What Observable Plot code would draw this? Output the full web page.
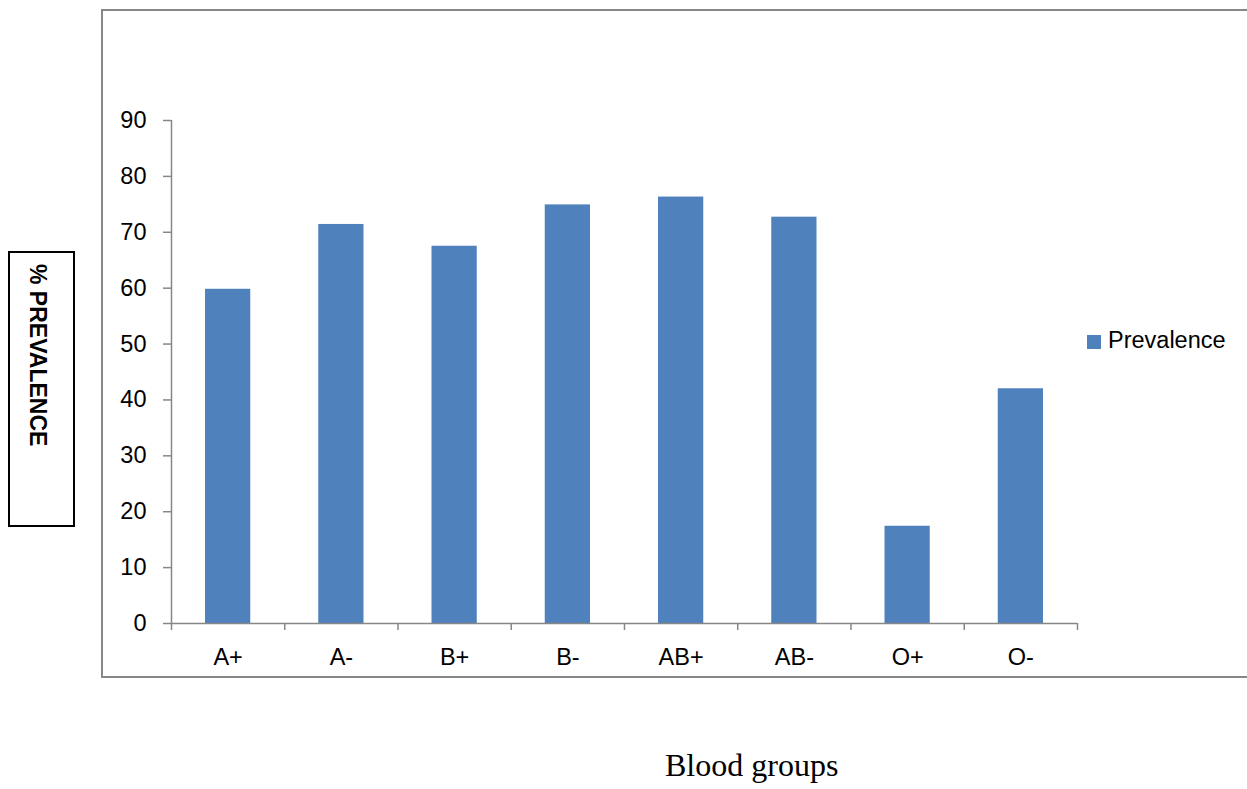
<!DOCTYPE html>
<html>
<head>
<meta charset="utf-8">
<script src="https://cdn.jsdelivr.net/npm/d3@7"></script>
<script src="https://cdn.jsdelivr.net/npm/@observablehq/plot@0.6"></script>
<style>
  html, body { margin: 0; padding: 0; background: #fff; overflow: hidden; }
  #wrap { position: relative; width: 1247px; height: 789px; }
  #chart { position: absolute; left: 0; top: 0; }
  #frame { position: absolute; left: 101px; top: 9px; width: 1200px; height: 665px;
           border-left: 2px solid #878787; border-top: 2px solid #878787; border-bottom: 2px solid #878787; }
  #ybox { position: absolute; left: 8px; top: 251px; width: 63px; height: 272px; border: 2px solid #000; background: #fff; }
  #ylab { position: absolute; left: 14px; top: 11px; writing-mode: vertical-rl;
          font: bold 23px "Liberation Sans", Arial, sans-serif; color: #000; white-space: nowrap; }
  #legend { position: absolute; left: 1087px; top: 327px; font: 23.5px "Liberation Sans", Arial, sans-serif; color: #000;
            display: flex; align-items: center; }
  #legend .sw { width: 14px; height: 14px; background: #4F81BD; margin-right: 7px; margin-top: 2px; }
  #xtitle { position: absolute; left: 665px; top: 747px; font: 32px "Liberation Serif", "Times New Roman", serif; color: #000; white-space: nowrap; }
</style>
</head>
<body>
<div id="wrap">
  <div id="frame"></div>
  <div id="chart"></div>
  <div id="ybox"><div id="ylab">% PREVALENCE</div></div>
  <div id="legend"><div class="sw"></div><span>Prevalence</span></div>
  <div id="xtitle">Blood groups</div>
</div>
<script>
const categories = ["A+", "A-", "B+", "B-", "AB+", "AB-", "O+", "O-"];
const prevalence = [59.8, 71.4, 67.5, 74.9, 76.3, 72.7, 17.4, 42.0];
const yTicks = [0, 10, 20, 30, 40, 50, 60, 70, 80, 90];

const data = categories.map((c, i) => ({group: c, index: i, value: prevalence[i]}));
const boundaries = d3.range(categories.length + 1);
const axisColor = "#878787";

const chart = Plot.plot({
  width: 1247,
  height: 789,
  marginLeft: 171,
  marginRight: 170,
  marginTop: 120,
  marginBottom: 166,
  style: {fontFamily: "'Liberation Sans', Arial, sans-serif", fontSize: "23.5px", color: "#000", background: "transparent"},
  x: {type: "linear", domain: [0, categories.length], axis: null},
  y: {type: "linear", domain: [0, 90], axis: null},
  marks: [
    Plot.rectY(data, {x1: "index", x2: d => d.index + 1, y1: 0, y2: "value", insetLeft: 34, insetRight: 34, fill: "#4F81BD"}),
    Plot.axisY({ticks: yTicks, tickSize: 8, tickPadding: 17, stroke: axisColor, strokeWidth: 1.5, fill: "#000", fontSize: 23.5, label: null}),
    Plot.axisX({ticks: boundaries, tickFormat: () => "", tickSize: 7, stroke: axisColor, strokeWidth: 1.5, label: null}),
    Plot.ruleX([0], {stroke: axisColor, strokeWidth: 1.5}),
    Plot.ruleY([0], {stroke: axisColor, strokeWidth: 1.5}),
    Plot.text(data, {x: d => d.index + 0.5, y: 0, text: "group", dy: 34, lineAnchor: "middle", fontSize: 23.5, fill: "#000"})
  ]
});
document.getElementById("chart").appendChild(chart);
</script>
</body>
</html>
